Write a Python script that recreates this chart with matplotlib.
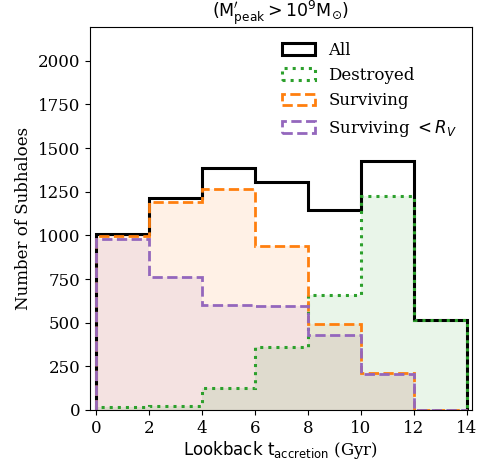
import matplotlib
matplotlib.use("Agg")
import matplotlib.pyplot as plt
import numpy as np

# bin edges (lookback accretion time, Gyr) and counts per bin
edges = [0, 2, 4, 6, 8, 10, 12, 14]
n_all = [1007, 1213, 1389, 1305, 1146, 1429, 516]
n_destroyed = [15, 23, 124, 363, 659, 1226, 516]
n_surviving = [997, 1194, 1265, 942, 491, 210, 0]
n_surv_rv = [982, 764, 604, 596, 430, 205, 0]

plt.rcParams["font.family"] = "DejaVu Serif"
plt.rcParams["mathtext.fontset"] = "dejavusans"

fig = plt.figure(figsize=(4.82, 4.62), dpi=100)
ax = fig.add_axes([0.187, 0.1126, 0.792, 0.8294])

centers = np.array(edges[:-1]) + 1.0

# translucent fills
ax.hist(centers, bins=edges, weights=n_surviving, histtype="stepfilled",
        color="tab:orange", alpha=0.1)
ax.hist(centers, bins=edges, weights=n_surv_rv, histtype="stepfilled",
        color="tab:purple", alpha=0.1)
ax.hist(centers, bins=edges, weights=n_destroyed, histtype="stepfilled",
        color="tab:green", alpha=0.1)

# outlines
ax.hist(centers, bins=edges, weights=n_all, histtype="step",
        color="black", lw=2.2, label="All")
ax.hist(centers, bins=edges, weights=n_destroyed, histtype="step",
        color="tab:green", lw=2.2, ls=":", label="Destroyed")
ax.hist(centers, bins=edges, weights=n_surviving, histtype="step",
        color="tab:orange", lw=2.0, ls="--", label="Surviving")
ax.hist(centers, bins=edges, weights=n_surv_rv, histtype="step",
        color="tab:purple", lw=2.0, ls="--", label=r"Surviving $<R_V$")

ax.set_xlim(-0.23, 14.2)
ax.set_ylim(0, 2195)
ax.set_xticks(np.arange(0, 15, 2))
ax.set_yticks(np.arange(0, 2001, 250))
ax.tick_params(labelsize=12)

ax.set_xlabel(r"$\rm Lookback\ t_{accretion}$ (Gyr)", fontsize=12, labelpad=2)
ax.set_ylabel("Number of Subhaloes", fontsize=12)
ax.set_title(r"$\rm (M^{\prime}_{peak} > 10^9 M_{\odot})$", fontsize=12.5)

ax.legend(loc="upper right", frameon=False, fontsize=12)

fig.savefig("out.png", dpi=100)
